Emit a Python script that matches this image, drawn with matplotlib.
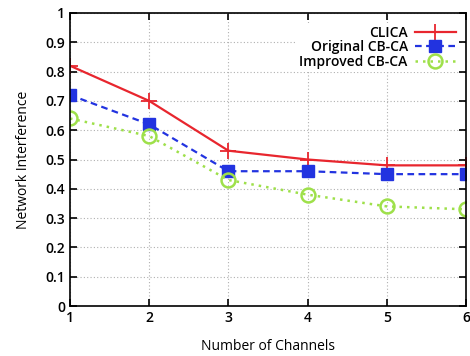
import matplotlib
matplotlib.use("Agg")
import matplotlib.pyplot as plt

channels = [1, 2, 3, 4, 5, 6]
clica = [0.82, 0.70, 0.53, 0.50, 0.48, 0.48]
original = [0.72, 0.62, 0.46, 0.46, 0.45, 0.45]
improved = [0.64, 0.58, 0.43, 0.38, 0.34, 0.33]

plt.rcParams['font.family'] = ['Open Sans', 'DejaVu Sans']
plt.rcParams['font.weight'] = 'semibold'

fig = plt.figure(figsize=(4.7, 3.56), dpi=100)
ax = fig.add_axes([70 / 470, 50 / 356, 396 / 470, 293 / 356])

ax.plot(channels, clica, color='#e8262e', lw=1.6, marker='+', ms=11, mew=1.3, label='CLICA')
ax.plot(channels, original, color='#2233e0', lw=1.6, ls=(0, (3, 2)), marker='s', ms=9,
        label='Original CB-CA')
ax.plot(channels, improved, color='#9ee04a', lw=1.8, ls=(0, (1, 2)), marker='o', ms=10,
        mfc='none', mew=1.8, label='Improved CB-CA')

ax.set_xlim(1, 6)
ax.set_ylim(0, 1)
ax.set_xticks(channels)
ax.set_yticks([0, 0.1, 0.2, 0.3, 0.4, 0.5, 0.6, 0.7, 0.8, 0.9, 1])
ax.set_yticklabels(['0', '0.1', '0.2', '0.3', '0.4', '0.5', '0.6', '0.7', '0.8', '0.9', '1'])
ax.grid(True, color='#b0b0b0', ls=(0, (1, 2)), lw=0.8)
ax.tick_params(direction='in', top=True, right=True, length=5, width=1.2, labelsize=10)
for s in ax.spines.values():
    s.set_linewidth(1.2)

ax.set_xlabel('Number of Channels', fontsize=10, labelpad=10)
ax.set_ylabel('Network Interference', fontsize=10, labelpad=10)

leg = ax.legend(loc='upper right', markerfirst=False, frameon=True, fancybox=False,
                edgecolor='none', framealpha=1, fontsize=10, handlelength=3,
                borderpad=0.2, labelspacing=0.05, handletextpad=0.5,
                bbox_to_anchor=(1.0, 0.99))

fig.savefig('out.png', dpi=100)
